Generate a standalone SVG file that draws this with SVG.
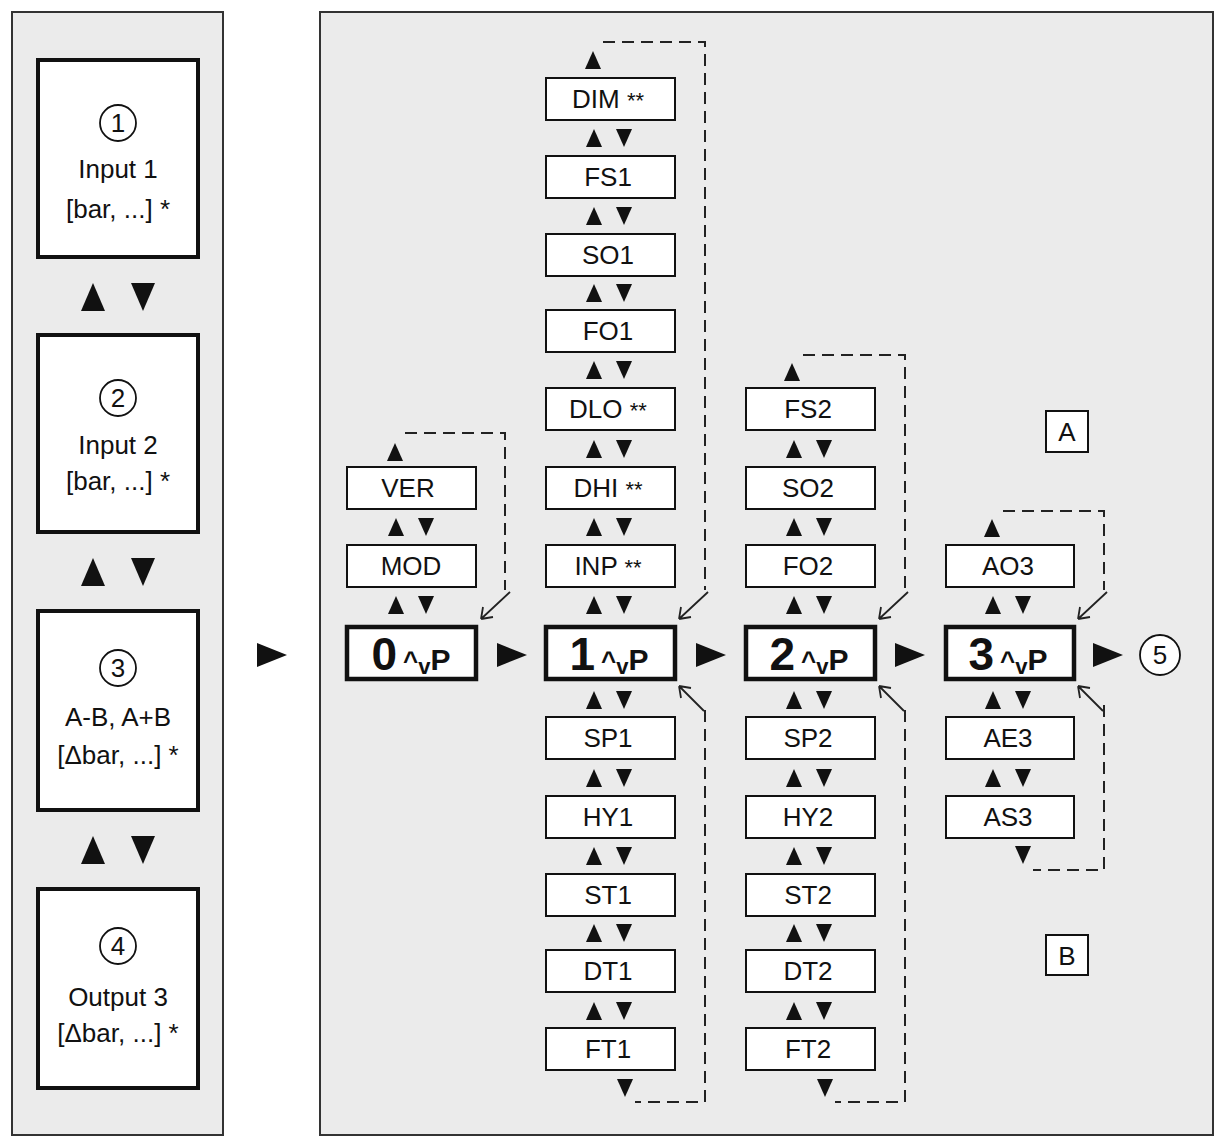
<svg xmlns="http://www.w3.org/2000/svg" width="1221" height="1137" viewBox="0 0 1221 1137">
<defs>
<style>
.pan{fill:#ebebeb;stroke:#333;stroke-width:2}
.big{fill:#fff;stroke:#111;stroke-width:4}
.sm{fill:#fff;stroke:#111;stroke-width:2}
.md{fill:#fff;stroke:#111;stroke-width:4.5}
text{font-family:"Liberation Sans",Arial,sans-serif;fill:#111;text-anchor:middle}
.t{font-size:26px}
.s{font-size:26px}
.dash{fill:none;stroke:#222;stroke-width:2;stroke-dasharray:12 7}
.thin{fill:none;stroke:#222;stroke-width:1.8}
.ar{fill:#111}
.mt{font-weight:bold}
</style>
<g id="up"><polygon points="0,-9 8,9 -8,9"/></g>
<g id="dn"><polygon points="0,9 8,-9 -8,-9"/></g>
<g id="ud"><use href="#up" x="-15"/><use href="#dn" x="15"/></g>
<g id="bud"><polygon points="-25,-14 -13,14 -37,14"/><polygon points="25,14 37,-14 13,-14"/></g>
<g id="rt"><polygon points="-15,-12 15,0 -15,12"/></g>
<g id="cTR"><path d="M32,-30 L3,-3 M3,-3 L5,-15 M3,-3 L15,-5" class="thin"/></g>
<g id="cBR"><path d="M28,28 L3,3 M3,3 L5,15 M3,3 L15,5" class="thin"/></g>
</defs>
<rect width="1221" height="1137" fill="#fff"/>
<rect class="pan" x="12" y="12" width="211" height="1123"/>
<rect class="pan" x="320" y="12" width="893" height="1123"/>

<g id="left">
<g id="in1"><rect class="big" x="38" y="60" width="160" height="197"/><circle cx="118" cy="123" r="18" fill="#fff" stroke="#111" stroke-width="1.8"/><text class="t" x="118" y="132">1</text><text class="t" x="118" y="178">Input 1</text><text class="t" x="118" y="218">[bar, ...] *</text></g>
<g id="in2"><rect class="big" x="38" y="335" width="160" height="197"/><circle cx="118" cy="398" r="18" fill="#fff" stroke="#111" stroke-width="1.8"/><text class="t" x="118" y="407">2</text><text class="t" x="118" y="454">Input 2</text><text class="t" x="118" y="490">[bar, ...] *</text></g>
<g id="in3"><rect class="big" x="38" y="611" width="160" height="199"/><circle cx="118" cy="668" r="18" fill="#fff" stroke="#111" stroke-width="1.8"/><text class="t" x="118" y="677">3</text><text class="t" x="118" y="726">A-B, A+B</text><text class="t" x="118" y="764">[Δbar, ...] *</text></g>
<g id="in4"><rect class="big" x="38" y="889" width="160" height="199"/><circle cx="118" cy="946" r="18" fill="#fff" stroke="#111" stroke-width="1.8"/><text class="t" x="118" y="955">4</text><text class="t" x="118" y="1006">Output 3</text><text class="t" x="118" y="1042">[Δbar, ...] *</text></g>
<g class="ar"><use href="#bud" x="118" y="297"/><use href="#bud" x="118" y="572"/><use href="#bud" x="118" y="850"/></g>
</g>

<g id="connectors" class="ar">
<use href="#rt" x="272" y="655"/>
<use href="#rt" x="512" y="655"/><use href="#rt" x="711" y="655"/><use href="#rt" x="910" y="655"/><use href="#rt" x="1108" y="655"/>
<path class="dash" d="M405,433 H505 V590"/>
<path class="dash" d="M603,42 H705 V590"/>
<path class="dash" d="M705,710 V1102 H635"/>
<path class="dash" d="M803,355 H905 V590"/>
<path class="dash" d="M905,710 V1102 H835"/>
<path class="dash" d="M1003,511 H1104 V590"/>
<path class="dash" d="M1104,705 V870 H1033"/>
<use href="#up" x="395" y="452"/><use href="#up" x="593" y="60"/><use href="#up" x="792" y="372"/><use href="#up" x="992" y="528"/>
<use href="#dn" x="625" y="1088"/><use href="#dn" x="825" y="1088"/><use href="#dn" x="1023" y="855"/>
<use href="#cTR" x="478" y="622"/><use href="#cTR" x="676" y="622"/><use href="#cTR" x="876" y="622"/><use href="#cTR" x="1075" y="622"/>
<use href="#cBR" x="676" y="683"/><use href="#cBR" x="876" y="683"/><use href="#cBR" x="1075" y="683"/>
<use href="#ud" x="411" y="527"/><use href="#ud" x="411" y="605"/>
<use href="#ud" x="609" y="138"/><use href="#ud" x="609" y="216"/><use href="#ud" x="609" y="293"/><use href="#ud" x="609" y="370"/><use href="#ud" x="609" y="449"/><use href="#ud" x="609" y="527"/><use href="#ud" x="609" y="605"/><use href="#ud" x="609" y="700"/><use href="#ud" x="609" y="778"/><use href="#ud" x="609" y="856"/><use href="#ud" x="609" y="933"/><use href="#ud" x="609" y="1011"/>
<use href="#ud" x="809" y="449"/><use href="#ud" x="809" y="527"/><use href="#ud" x="809" y="605"/><use href="#ud" x="809" y="700"/><use href="#ud" x="809" y="778"/><use href="#ud" x="809" y="856"/><use href="#ud" x="809" y="933"/><use href="#ud" x="809" y="1011"/>
<use href="#ud" x="1008" y="605"/><use href="#ud" x="1008" y="700"/><use href="#ud" x="1008" y="778"/>
</g>

<g id="col0">
<g id="VER"><rect class="sm" x="347" y="467" width="129" height="42"/><text class="s" x="408" y="497">VER</text></g>
<g id="MOD"><rect class="sm" x="347" y="545" width="129" height="42"/><text class="s" x="411" y="575">MOD</text></g>
<g id="m0"><rect class="md" x="347" y="627" width="129" height="52"/><text x="411" y="670" class="mt"><tspan font-size="46">0</tspan><tspan font-size="26" dx="6">^</tspan><tspan font-size="22" dy="4">v</tspan><tspan font-size="30" dy="-4">P</tspan></text></g>
</g>

<g id="col1">
<g id="DIM"><rect class="sm" x="546" y="78" width="129" height="42"/><text class="s" x="608" y="108">DIM <tspan font-size="22">**</tspan></text></g>
<g id="FS1"><rect class="sm" x="546" y="156" width="129" height="42"/><text class="s" x="608" y="186">FS1</text></g>
<g id="SO1"><rect class="sm" x="546" y="234" width="129" height="42"/><text class="s" x="608" y="264">SO1</text></g>
<g id="FO1"><rect class="sm" x="546" y="310" width="129" height="42"/><text class="s" x="608" y="340">FO1</text></g>
<g id="DLO"><rect class="sm" x="546" y="388" width="129" height="42"/><text class="s" x="608" y="418">DLO <tspan font-size="22">**</tspan></text></g>
<g id="DHI"><rect class="sm" x="546" y="467" width="129" height="42"/><text class="s" x="608" y="497">DHI <tspan font-size="22">**</tspan></text></g>
<g id="INP"><rect class="sm" x="546" y="545" width="129" height="42"/><text class="s" x="608" y="575">INP <tspan font-size="22">**</tspan></text></g>
<g id="m1"><rect class="md" x="546" y="627" width="129" height="52"/><text x="609" y="670" class="mt"><tspan font-size="46">1</tspan><tspan font-size="26" dx="6">^</tspan><tspan font-size="22" dy="4">v</tspan><tspan font-size="30" dy="-4">P</tspan></text></g>
<g id="SP1"><rect class="sm" x="546" y="717" width="129" height="42"/><text class="s" x="608" y="747">SP1</text></g>
<g id="HY1"><rect class="sm" x="546" y="796" width="129" height="42"/><text class="s" x="608" y="826">HY1</text></g>
<g id="ST1"><rect class="sm" x="546" y="874" width="129" height="42"/><text class="s" x="608" y="904">ST1</text></g>
<g id="DT1"><rect class="sm" x="546" y="950" width="129" height="42"/><text class="s" x="608" y="980">DT1</text></g>
<g id="FT1"><rect class="sm" x="546" y="1028" width="129" height="42"/><text class="s" x="608" y="1058">FT1</text></g>
</g>

<g id="col2">
<g id="FS2"><rect class="sm" x="746" y="388" width="129" height="42"/><text class="s" x="808" y="418">FS2</text></g>
<g id="SO2"><rect class="sm" x="746" y="467" width="129" height="42"/><text class="s" x="808" y="497">SO2</text></g>
<g id="FO2"><rect class="sm" x="746" y="545" width="129" height="42"/><text class="s" x="808" y="575">FO2</text></g>
<g id="m2"><rect class="md" x="746" y="627" width="129" height="52"/><text x="809" y="670" class="mt"><tspan font-size="46">2</tspan><tspan font-size="26" dx="6">^</tspan><tspan font-size="22" dy="4">v</tspan><tspan font-size="30" dy="-4">P</tspan></text></g>
<g id="SP2"><rect class="sm" x="746" y="717" width="129" height="42"/><text class="s" x="808" y="747">SP2</text></g>
<g id="HY2"><rect class="sm" x="746" y="796" width="129" height="42"/><text class="s" x="808" y="826">HY2</text></g>
<g id="ST2"><rect class="sm" x="746" y="874" width="129" height="42"/><text class="s" x="808" y="904">ST2</text></g>
<g id="DT2"><rect class="sm" x="746" y="950" width="129" height="42"/><text class="s" x="808" y="980">DT2</text></g>
<g id="FT2"><rect class="sm" x="746" y="1028" width="129" height="42"/><text class="s" x="808" y="1058">FT2</text></g>
</g>

<g id="col3">
<g id="AO3"><rect class="sm" x="946" y="545" width="128" height="42"/><text class="s" x="1008" y="575">AO3</text></g>
<g id="m3"><rect class="md" x="946" y="627" width="128" height="52"/><text x="1008" y="670" class="mt"><tspan font-size="46">3</tspan><tspan font-size="26" dx="6">^</tspan><tspan font-size="22" dy="4">v</tspan><tspan font-size="30" dy="-4">P</tspan></text></g>
<g id="AE3"><rect class="sm" x="946" y="717" width="128" height="42"/><text class="s" x="1008" y="747">AE3</text></g>
<g id="AS3"><rect class="sm" x="946" y="796" width="128" height="42"/><text class="s" x="1008" y="826">AS3</text></g>
</g>

<g id="c5"><circle cx="1160" cy="655" r="20" fill="#fff" stroke="#111" stroke-width="1.8"/><text class="t" x="1160" y="664">5</text></g>
<g id="A"><rect class="sm" x="1046" y="411" width="42" height="41"/><text class="t" x="1067" y="441">A</text></g>
<g id="B"><rect class="sm" x="1046" y="935" width="42" height="40"/><text class="t" x="1067" y="965">B</text></g>
</svg>
